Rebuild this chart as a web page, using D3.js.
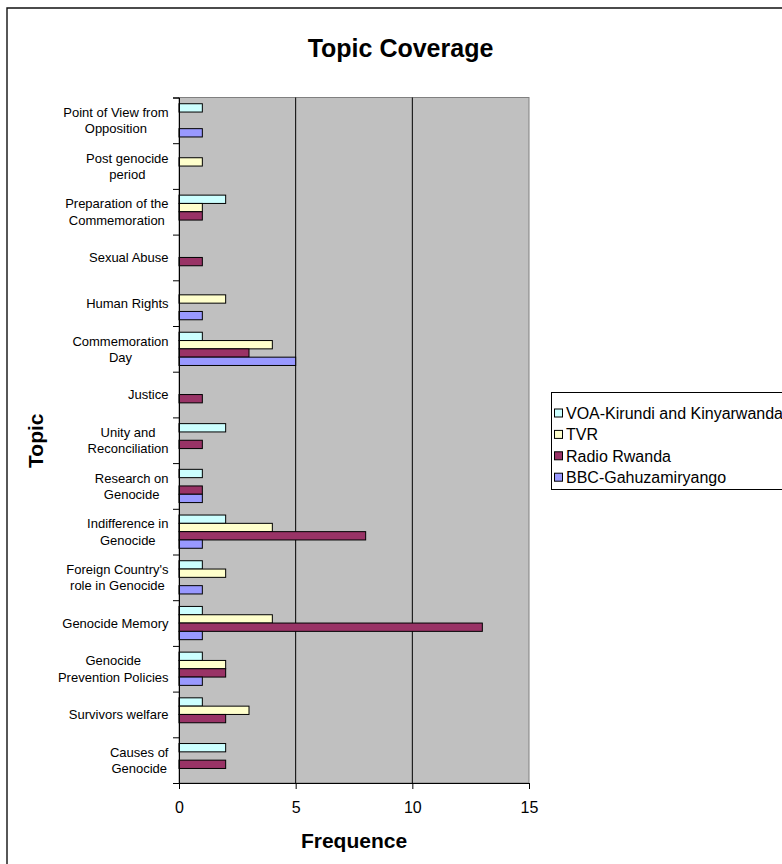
<!DOCTYPE html>
<html>
<head>
<meta charset="utf-8">
<script src="https://cdn.jsdelivr.net/npm/d3@7/dist/d3.min.js"></script>
<style>
  html, body { margin: 0; padding: 0; background: #fff; }
  svg { display: block; font-family: Arial, "Liberation Sans", sans-serif; }
</style>
</head>
<body>
<svg id="chart" width="782" height="864"></svg>
<script>
// Topics, top to bottom; "\n" marks where a label wraps
const categories = [
  "Point of View from\nOpposition",
  "Post genocide\nperiod",
  "Preparation of the\nCommemoration",
  "Sexual Abuse",
  "Human Rights",
  "Commemoration\nDay",
  "Justice",
  "Unity and\nReconciliation",
  "Research on\nGenocide",
  "Indifference in\nGenocide",
  "Foreign Country's\nrole in Genocide",
  "Genocide Memory",
  "Genocide\nPrevention Policies",
  "Survivors welfare",
  "Causes of\nGenocide"
];

const seriesNames = ["VOA-Kirundi and Kinyarwanda", "TVR", "Radio Rwanda", "BBC-Gahuzamiryango"];
const seriesColors = ["#CCFFFF", "#FFFFCC", "#993366", "#9999FF"];

// Frequencies per topic, same order as categories
const voa   = [1, 0, 2, 0, 0, 1, 0, 2, 1, 2, 1, 1, 1, 1, 2];
const tvr   = [0, 1, 1, 0, 2, 4, 0, 0, 0, 4, 2, 4, 2, 3, 0];
const radio = [0, 0, 1, 1, 0, 3, 1, 1, 1, 8, 0, 13, 2, 2, 2];
const bbc   = [1, 0, 0, 0, 1, 5, 0, 0, 1, 1, 1, 1, 1, 0, 0];
const seriesValues = [voa, tvr, radio, bbc];

const xTicks = [0, 5, 10, 15];

const svg = d3.select("#chart");
const plot = { left: 179, right: 529, top: 97.5, bottom: 783 };

// Outer chart frame (only top and left edges fall inside the page)
svg.append("path")
  .attr("d", `M7,864 V8 H782`)
  .attr("fill", "none")
  .attr("stroke", "#111")
  .attr("stroke-width", 1.4);

const x = d3.scaleLinear().domain([0, 15]).range([plot.left, plot.right]);
const y = d3.scaleBand().domain(categories).range([plot.top, plot.bottom]);
const barH = y.bandwidth() / 5.5;
const inner = d3.scaleBand().domain(seriesNames).range([0, barH * 4]);
const groupOffset = (y.bandwidth() - barH * 4) / 2;

// Plot background
svg.append("rect")
  .attr("x", plot.left).attr("y", plot.top)
  .attr("width", plot.right - plot.left).attr("height", plot.bottom - plot.top)
  .attr("fill", "#C0C0C0")
  .attr("stroke", "#808080").attr("stroke-width", 1);

// Vertical gridlines
svg.append("g").selectAll("line")
  .data(xTicks.filter(t => t > 0 && t < 15))
  .join("line")
  .attr("x1", d => x(d)).attr("x2", d => x(d))
  .attr("y1", plot.top).attr("y2", plot.bottom)
  .attr("stroke", "#000").attr("stroke-width", 1);

// Bars
const barData = [];
categories.forEach((c, i) => {
  seriesNames.forEach((s, j) => {
    barData.push({ cat: c, series: s, color: seriesColors[j], value: seriesValues[j][i] });
  });
});
svg.append("g").selectAll("rect")
  .data(barData.filter(d => d.value > 0))
  .join("rect")
  .attr("x", x(0))
  .attr("y", d => y(d.cat) + groupOffset + inner(d.series))
  .attr("width", d => x(d.value) - x(0))
  .attr("height", inner.bandwidth())
  .attr("fill", d => d.color)
  .attr("stroke", "#000").attr("stroke-width", 1);

// Bottom axis
const xAxis = svg.append("g")
  .attr("transform", `translate(0,${plot.bottom})`)
  .call(d3.axisBottom(x).tickValues(xTicks).tickSize(6).tickPadding(12.5).tickFormat(d3.format("d")));
xAxis.select(".domain").attr("stroke", "#000");
xAxis.selectAll(".tick line").attr("stroke", "#000");
xAxis.selectAll("text").attr("font-size", 16).attr("fill", "#000")
  .attr("font-family", "Arial, 'Liberation Sans', sans-serif");

// Left axis: ticks sit between categories
const yEdges = d3.scaleLinear().domain([0, categories.length]).range([plot.top, plot.bottom]);
const yAxis = svg.append("g")
  .attr("transform", `translate(${plot.left},0)`)
  .call(d3.axisLeft(yEdges).tickValues(d3.range(0, categories.length + 1)).tickSize(6).tickFormat(""));
yAxis.select(".domain").attr("stroke", "#000");
yAxis.selectAll(".tick line").attr("stroke", "#000");

// Category labels: each block right-aligned, lines centred inside it
const measure = svg.append("text").attr("font-size", 13).attr("visibility", "hidden");
const labelRight = 168.5;
const lineH = 16.3;
const labels = svg.append("g").attr("font-size", 13).attr("fill", "#000");
categories.forEach(c => {
  const lines = c.split("\n");
  const widths = lines.map(l => { measure.text(l); return measure.node().getComputedTextLength(); });
  const cx = labelRight - d3.max(widths) / 2;
  const cy = y(c) + y.bandwidth() / 2;
  lines.forEach((l, k) => {
    labels.append("text")
      .attr("x", cx)
      .attr("y", cy + (k - (lines.length - 1) / 2) * lineH + 4.8)
      .attr("text-anchor", "middle")
      .text(l);
  });
});
measure.remove();

// Titles
svg.append("text")
  .attr("x", 400.5).attr("y", 56.5)
  .attr("text-anchor", "middle")
  .attr("font-size", 25).attr("font-weight", "bold")
  .text("Topic Coverage");

svg.append("text")
  .attr("x", (plot.left + plot.right) / 2).attr("y", 848.3)
  .attr("text-anchor", "middle")
  .attr("font-size", 21).attr("font-weight", "bold")
  .text("Frequence");

svg.append("text")
  .attr("transform", `translate(43,${(plot.top + plot.bottom) / 2 + 0.5}) rotate(-90)`)
  .attr("text-anchor", "middle")
  .attr("font-size", 21).attr("font-weight", "bold")
  .text("Topic");

// Legend
const legend = svg.append("g");
legend.append("rect")
  .attr("x", 551.5).attr("y", 392.5)
  .attr("width", 260).attr("height", 97)
  .attr("fill", "#fff").attr("stroke", "#000").attr("stroke-width", 1);
seriesNames.forEach((s, j) => {
  const cy = 413 + j * 21.4;
  legend.append("rect")
    .attr("x", 554.5).attr("y", cy - 4)
    .attr("width", 8).attr("height", 8)
    .attr("fill", seriesColors[j]).attr("stroke", "#000").attr("stroke-width", 1);
  legend.append("text")
    .attr("x", 566).attr("y", cy + 6)
    .attr("font-size", 16).attr("fill", "#000")
    .text(s);
});
</script>
</body>
</html>
